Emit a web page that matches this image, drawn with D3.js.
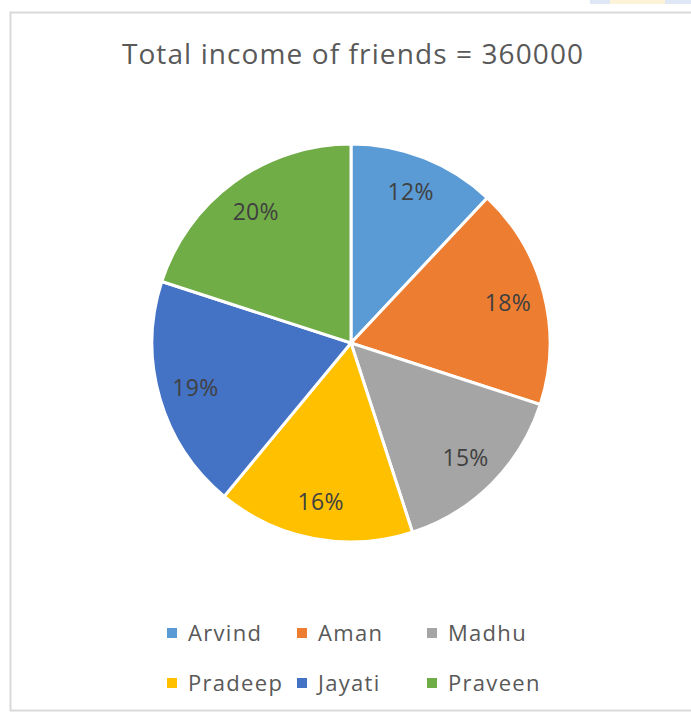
<!DOCTYPE html>
<html><head><meta charset="utf-8">
<script src="https://cdn.jsdelivr.net/npm/d3@7"></script>
<style>html,body{margin:0;padding:0;background:#fff;}</style>
</head><body>
<script>
const title = "Total income of friends = 360000";
const categories = ["Arvind","Aman","Madhu","Pradeep","Jayati","Praveen"];
const values = [12,18,15,16,19,20];
const colors = ["#5B9BD5","#ED7D31","#A5A5A5","#FFC000","#4472C4","#70AD47"];

const W = 691, H = 713;
const svg = d3.select("body").append("svg").attr("width",W).attr("height",H);
svg.append("rect").attr("x",0).attr("y",0).attr("width",W).attr("height",H).attr("fill","#fff");
// chart frame
svg.append("rect").attr("x",10.5).attr("y",12.5).attr("width",W+10).attr("height",698)
  .attr("fill","#fff").attr("stroke","#d9d9d9").attr("stroke-width",2);
// faint artifact top-right
svg.append("rect").attr("x",590).attr("y",0).attr("width",20).attr("height",4).attr("fill","#dfe6f5");
svg.append("rect").attr("x",610).attr("y",0).attr("width",55).attr("height",4).attr("fill","#fdf3d8");
svg.append("rect").attr("x",665).attr("y",0).attr("width",26).attr("height",4).attr("fill","#dfe6f5");

svg.append("text").attr("x",353).attr("y",64).attr("text-anchor","middle")
  .attr("font-family","Open Sans, sans-serif").attr("font-size",28).attr("letter-spacing","1.1px")
  .attr("fill","#595959")
  .text(title);

const cx = 351, cy = 343, r = 199;
const pie = d3.pie().sort(null).value(d=>d)(values);
const arc = d3.arc().innerRadius(0).outerRadius(r);
const labelArc = d3.arc().innerRadius(162).outerRadius(162);
const g = svg.append("g").attr("transform",`translate(${cx},${cy})`);
g.selectAll("path").data(pie).join("path")
  .attr("d",arc).attr("fill",(d,i)=>colors[i]).attr("stroke","#fff").attr("stroke-width",3);
g.selectAll("text").data(pie).join("text")
  .attr("transform",d=>`translate(${labelArc.centroid(d)})`)
  .attr("text-anchor","middle").attr("dy","0.35em")
  .attr("font-family","Open Sans, sans-serif").attr("font-size",23).attr("letter-spacing","0.3px")
  .attr("fill","#404040")
  .text(d=>d.data+"%");

// legend
const legX = [167,297,427], legY = [633,683];
const lg = svg.append("g");
categories.forEach((c,i)=>{
  const x = legX[i%3], y = legY[Math.floor(i/3)];
  lg.append("rect").attr("x",x).attr("y",y-5).attr("width",10).attr("height",10).attr("fill",colors[i]);
  lg.append("text").attr("x",x+21).attr("y",y).attr("dy","0.35em")
    .attr("font-family","Open Sans, sans-serif").attr("font-size",22).attr("letter-spacing","1.3px")
    .attr("fill","#595959").text(c);
});
</script>
</body></html>
